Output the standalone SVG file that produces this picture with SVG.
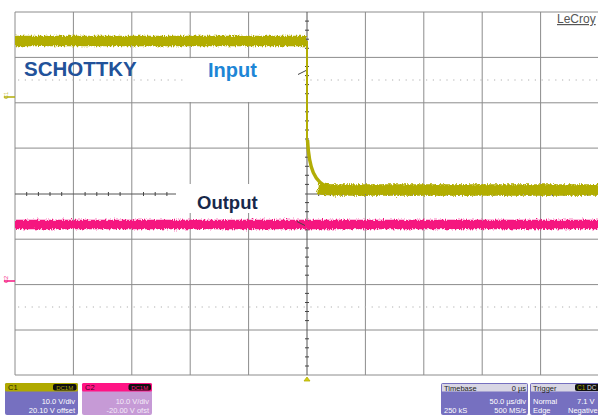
<svg xmlns="http://www.w3.org/2000/svg" width="598" height="416" viewBox="0 0 598 416">
<defs>
<style>
.grid{stroke:#8c8c8c;stroke-width:1;fill:none}
.dot{stroke:#b0b0b0;stroke-width:1.2;stroke-dasharray:1.2,5.6;fill:none}
.axis{stroke:#555;stroke-width:1;fill:none}
.tick{stroke:#444;stroke-width:1}
.lbl{font-family:"Liberation Sans",Arial,sans-serif;font-weight:bold}
.pt{font-family:"Liberation Sans",Arial,sans-serif;font-size:7.5px}
.yel{stroke:#b2ad06;fill:none}
.pink{stroke:#f5167f;fill:none}
</style>
<filter id="noise" filterUnits="userSpaceOnUse" x="0" y="0" width="598" height="416">
<feTurbulence type="fractalNoise" baseFrequency="0.9 0.35" numOctaves="2" seed="3" result="t"/>
<feDisplacementMap in="SourceGraphic" in2="t" scale="5" xChannelSelector="R" yChannelSelector="G"/>
</filter>
</defs>
<rect width="598" height="416" fill="#ffffff"/>
<g id="grid">
<path class="grid" d="M15,12V375M73.4,12V375M131.8,12V375M190.2,12V375M248.6,12V375M365.4,12V375M423.8,12V375M482.2,12V375M540.6,12V375"/>
<path class="grid" d="M15,12H598M15,57.4H598M15,102.8H598M15,148.1H598M15,239.2H598M15,284.6H598M15,330H598M15,375H598"/>
<path class="dot" d="M18,80H598M18,307H598"/>
<path class="axis" d="M307,12V375M15,194H598"/>
<path class="tick" d="M305,21.1h4M305,30.2h4M305,39.2h4M305,48.3h4M305,66.5h4M305,75.6h4M305,84.6h4M305,93.7h4M305,111.8h4M305,120.9h4M305,130h4M305,139h4M305,157.2h4M305,166.3h4M305,175.3h4M305,184.4h4M305,202.6h4M305,211.7h4M305,220.7h4M305,229.8h4M305,248h4M305,257.1h4M305,266.1h4M305,275.2h4M305,293.4h4M305,302.5h4M305,311.5h4M305,320.6h4M305,338.8h4M305,347.8h4M305,356.9h4M305,366h4"/>
<path class="tick" d="M26.7,192v4M38.4,192v4M50,192v4M61.7,192v4M85.1,192v4M96.8,192v4M108.4,192v4M120.1,192v4M143.5,192v4M155.2,192v4M166.9,192v4M178.5,192v4M201.9,192v4M213.6,192v4M225.3,192v4M236.9,192v4M318.7,192v4M330.4,192v4M342,192v4M353.7,192v4M377.1,192v4M388.8,192v4M400.4,192v4M412.1,192v4M435.5,192v4M447.2,192v4M458.8,192v4M470.5,192v4M493.9,192v4M505.6,192v4M517.2,192v4M528.9,192v4M552.3,192v4M564,192v4M575.6,192v4M587.3,192v4"/>
</g>
<g id="label-boxes">
<rect x="187" y="58.2" width="115" height="43.8" fill="#ffffff"/>
<rect x="176" y="184" width="129" height="29" fill="#ffffff"/>
</g>
<g id="traces">
<g id="ch1-trace">
<path class="yel" stroke-width="7" d="M15,41H306"/>
<path class="yel" stroke-width="10.5" filter="url(#noise)" d="M15,41H306"/>
<path class="yel" stroke-width="2" d="M307,41V145"/>
<path class="yel" stroke-width="3.5" d="M307.5,140C309,168 314,183 330,188"/>
<path class="yel" stroke-width="8" d="M322,189C328,190 332,190 340,190H600"/>
<path class="yel" stroke-width="11.5" filter="url(#noise)" d="M318,188.5C325,190 330,190 340,190H600"/>
</g>
<g id="ch2-trace">
<path class="pink" stroke-width="6.5" d="M15,224.5H600"/>
<path class="pink" stroke-width="9.5" filter="url(#noise)" d="M15,224.5H600"/>
</g>
<path d="M298,74.5L306,70.5" stroke="#444" stroke-width="1"/>
<path d="M297,221.5L305,225.5" stroke="#444" stroke-width="1"/>
</g>
<g id="markers">
<path d="M4,97H15" stroke="#b2ad06" stroke-width="1.5"/>
<text class="pt" transform="translate(8,99) rotate(-90)" fill="#b2ad06" style="font-size:5.5px">C1</text>
<path d="M4,281H15" stroke="#f5167f" stroke-width="1.5"/>
<text class="pt" transform="translate(8,283) rotate(-90)" fill="#f5167f" style="font-size:5.5px">C2</text>
<path d="M304,381L307,377L310,381Z" fill="#d6cf10" stroke="#b2ad06" stroke-width="0.8"/>
</g>
<g id="schottky-label"><text class="lbl" x="24" y="76" font-size="20.5" fill="#22529a">SCHOTTKY</text></g>
<g id="input-label"><text class="lbl" x="208" y="77" font-size="20" fill="#1d86d6">Input</text></g>
<g id="output-label"><text class="lbl" x="197" y="209" font-size="18.5" fill="#17284a">Output</text></g>
<g id="lecroy"><text x="557" y="23" font-family="Liberation Sans,Arial,sans-serif" font-size="12" fill="#555" text-decoration="underline">LeCroy</text></g>
<g id="c1-panel">
<rect x="5" y="383" width="73" height="32" rx="2" fill="#7670c0"/>
<rect x="5" y="383" width="73" height="8.5" rx="1.5" fill="#b0aa00"/>
<text class="pt" x="8" y="390" fill="#2a2800">C1</text>
<rect x="53" y="384" width="23.5" height="6.5" rx="2" fill="#111"/>
<text class="pt" x="64.7" y="389.6" text-anchor="middle" fill="#b0aa00" style="font-size:6px">DC1M</text>
<text class="pt" x="75" y="403.5" text-anchor="end" fill="#ffffff">10.0 V/div</text>
<text class="pt" x="75" y="412.5" text-anchor="end" fill="#ffffff">20.10 V offset</text>
</g>
<g id="c2-panel">
<rect x="82" y="383" width="70" height="32" rx="2" fill="#c69ad6"/>
<rect x="82" y="383" width="70" height="8.5" rx="1.5" fill="#ff1485"/>
<text class="pt" x="85" y="390" fill="#400020">C2</text>
<rect x="128.5" y="384" width="22.5" height="6.5" rx="2" fill="#111"/>
<text class="pt" x="139.7" y="389.6" text-anchor="middle" fill="#ff1485" style="font-size:6px">DC1M</text>
<text class="pt" x="149" y="403.5" text-anchor="end" fill="#f4ecf8">10.0 V/div</text>
<text class="pt" x="149" y="412.5" text-anchor="end" fill="#f4ecf8">-20.00 V ofst</text>
</g>
<g id="timebase-panel">
<rect x="441" y="383" width="87" height="32" rx="2" fill="#7670c0"/>
<rect x="442" y="384" width="85" height="7.5" fill="#d8d6e4"/>
<text class="pt" x="444" y="390.5" fill="#222">Timebase</text>
<text class="pt" x="526" y="390.5" text-anchor="end" fill="#222">0 µs</text>
<text class="pt" x="526" y="403.5" text-anchor="end" fill="#ffffff">50.0 µs/div</text>
<text class="pt" x="444" y="412.5" fill="#ffffff">250 kS</text>
<text class="pt" x="526" y="412.5" text-anchor="end" fill="#ffffff">500 MS/s</text>
</g>
<g id="trigger-panel">
<rect x="530" y="383" width="80" height="32" rx="2" fill="#7670c0"/>
<rect x="531" y="384" width="78" height="7.5" fill="#d8d6e4"/>
<text class="pt" x="533" y="390.5" fill="#222">Trigger</text>
<rect x="575" y="384" width="34" height="7" rx="2" fill="#111"/>
<text class="pt" x="577" y="390.3" fill="#b0aa00" style="font-size:6.5px">C1</text>
<text class="pt" x="587" y="390.3" fill="#ddd" style="font-size:6.5px">DC</text>
<text class="pt" x="533" y="403.5" fill="#ffffff">Normal</text>
<text class="pt" x="577" y="403.5" fill="#ffffff">7.1 V</text>
<text class="pt" x="533" y="412.5" fill="#ffffff">Edge</text>
<text class="pt" x="568" y="412.5" fill="#ffffff">Negative</text>
</g>
</svg>
